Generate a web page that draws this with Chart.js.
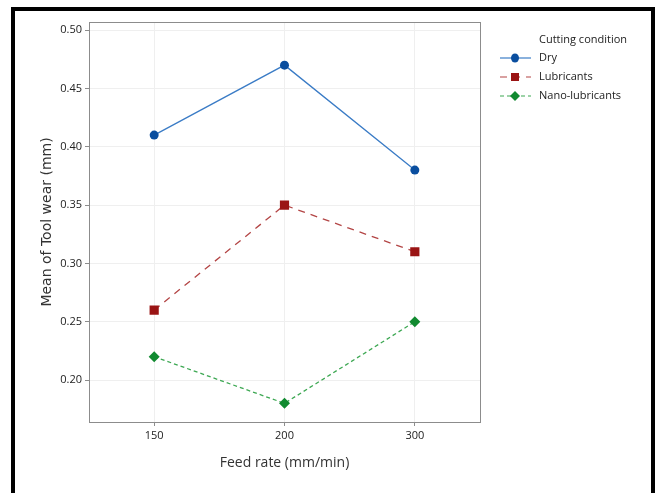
<!DOCTYPE html>
<html>
<head>
<meta charset="utf-8">
<script src="https://cdn.jsdelivr.net/npm/chart.js@4"></script>
<style>
  html, body { margin: 0; padding: 0; background: #fff; }
  #wrap { position: relative; width: 665px; height: 493px; }
  #frame { position: absolute; left: 11px; top: 7px; width: 644px; height: 486px;
           border: 4px solid #000; border-bottom: none; box-sizing: border-box; }
  canvas { position: absolute; left: 0; top: 0; }
</style>
</head>
<body>
<div id="wrap">
  <canvas id="chart" width="665" height="493"></canvas>
  <div id="frame"></div>
</div>
<script>
// feed rates and mean tool wear per cutting condition
const feedRates = ['150', '200', '300'];
const dry = [0.41, 0.47, 0.38];
const lubricants = [0.26, 0.35, 0.31];
const nanoLubricants = [0.22, 0.18, 0.25];
const yTicks = [0.20, 0.25, 0.30, 0.35, 0.40, 0.45, 0.50];

// frame around plot + legend on the right
const extras = {
  id: 'extras',
  afterDraw(chart) {
    const ctx = chart.ctx;
    const a = chart.chartArea;
    ctx.save();
    ctx.strokeStyle = '#8c8c8c';
    ctx.lineWidth = 1;
    ctx.strokeRect(a.left + 0.5, a.top + 0.5, a.right - a.left, a.bottom - a.top);

    ctx.font = '11px "Open Sans", sans-serif';
    ctx.fillStyle = '#222';
    ctx.textBaseline = 'middle';
    ctx.fillText('Cutting condition', 539, 40);
    chart.data.datasets.forEach((ds, i) => {
      const y = 58 + i * 19;
      ctx.strokeStyle = ds.borderColor;
      ctx.lineWidth = 1.2;
      ctx.setLineDash(ds.borderDash || []);
      ctx.beginPath();
      ctx.moveTo(500, y);
      ctx.lineTo(531, y);
      ctx.stroke();
      ctx.setLineDash([]);
      ctx.fillStyle = ds.pointBackgroundColor;
      ctx.beginPath();
      if (ds.pointStyle === 'rect') {
        ctx.rect(511, y - 4, 8, 8);
      } else if (ds.pointStyle === 'rectRot') {
        ctx.moveTo(515, y - 5); ctx.lineTo(520, y); ctx.lineTo(515, y + 5); ctx.lineTo(510, y);
        ctx.closePath();
      } else {
        ctx.ellipse(515, y, 4, 4.5, 0, 0, Math.PI * 2);
      }
      ctx.fill();
      ctx.fillStyle = '#222';
      ctx.fillText(ds.label, 539, y);
    });
    ctx.restore();
  }
};

new Chart(document.getElementById('chart'), {
  type: 'line',
  data: {
    labels: feedRates,
    datasets: [
      {
        label: 'Dry',
        data: dry,
        borderColor: '#3b7cc6',
        borderWidth: 1.3,
        pointStyle: 'circle',
        pointRadius: 4.5,
        pointBackgroundColor: '#0a4e9f',
        pointBorderColor: '#0a4e9f',
        pointBorderWidth: 0
      },
      {
        label: 'Lubricants',
        data: lubricants,
        borderColor: '#b34545',
        borderWidth: 1.3,
        borderDash: [7, 6],
        pointStyle: 'rect',
        pointRadius: 6.5,
        pointBackgroundColor: '#9a1414',
        pointBorderColor: '#9a1414',
        pointBorderWidth: 0
      },
      {
        label: 'Nano-lubricants',
        data: nanoLubricants,
        borderColor: '#3da853',
        borderWidth: 1.3,
        borderDash: [4, 3],
        pointStyle: 'rectRot',
        pointRadius: 5.5,
        pointBackgroundColor: '#118a30',
        pointBorderColor: '#118a30',
        pointBorderWidth: 0
      }
    ]
  },
  options: {
    responsive: false,
    animation: false,
    layout: { padding: { left: 37, top: 22, right: 185, bottom: 18 } },
    plugins: {
      legend: { display: false },
      tooltip: { enabled: false }
    },
    scales: {
      x: {
        type: 'category',
        offset: true,
        grid: { color: '#efefef', tickColor: '#8c8c8c', tickLength: 4, offset: false },
        border: { display: false },
        ticks: { color: '#222', font: { family: '"Open Sans", sans-serif', size: 11 }, padding: 3 },
        title: {
          display: true,
          text: 'Feed rate (mm/min)',
          color: '#333',
          font: { family: '"Open Sans", sans-serif', size: 14 },
          padding: { top: 4 }
        },
        afterFit(scale) { scale.height = 53; }
      },
      y: {
        min: 0.164,
        max: 0.507,
        afterBuildTicks(scale) { scale.ticks = yTicks.map(v => ({ value: v })); },
        grid: { color: '#efefef', tickColor: '#8c8c8c', tickLength: 4 },
        border: { display: false },
        ticks: {
          color: '#222',
          font: { family: '"Open Sans", sans-serif', size: 11 },
          padding: 3,
          callback: v => v.toFixed(2)
        },
        title: {
          display: true,
          text: 'Mean of Tool wear (mm)',
          color: '#333',
          font: { family: '"DejaVu Sans", sans-serif', size: 14 },
          padding: { top: 2, bottom: 0 }
        },
        afterFit(scale) { scale.width = 52; }
      }
    }
  },
  plugins: [extras]
});
</script>
</body>
</html>
